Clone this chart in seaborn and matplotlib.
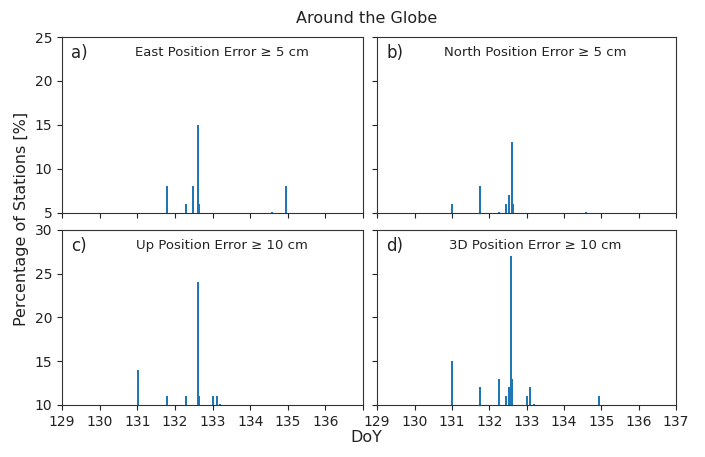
import numpy as np
import pandas as pd
import matplotlib
matplotlib.use("Agg")
import matplotlib.pyplot as plt
import seaborn as sns

# values (DoY, % of stations)
east_doy = [131.79, 132.30, 132.48, 132.62, 132.65, 134.58, 134.96]
east_pct = [8, 6, 8, 15, 6, 5.1, 8]

north_doy = [131.00, 131.76, 132.27, 132.46, 132.54, 132.60, 132.64, 134.59]
north_pct = [6, 8, 5.1, 6, 7, 13, 6, 5.1]

up_doy = [131.02, 131.79, 132.30, 132.62, 132.65, 133.00, 133.11, 133.20]
up_pct = [14, 11, 11, 24, 11, 11, 11, 10.1]

d3_doy = [131.00, 131.75, 132.26, 132.44, 132.53, 132.58, 132.62, 133.00, 133.10, 133.19, 134.94]
d3_pct = [15, 12, 13, 11, 12, 27, 13, 11, 12, 10.1, 11]

titles = ["East Position Error \u2265 5 cm", "North Position Error \u2265 5 cm",
          "Up Position Error \u2265 10 cm", "3D Position Error \u2265 10 cm"]
letters = ["a)", "b)", "c)", "d)"]
xticks = list(range(129, 138))

panels = [(east_doy, east_pct), (north_doy, north_pct), (up_doy, up_pct), (d3_doy, d3_pct)]

plt.rcParams["font.family"] = "DejaVu Sans"
plt.rcParams["text.color"] = "#222222"

fig = plt.figure(figsize=(7.05, 4.57), dpi=100)
boxes = [
    [0.088, 0.535, 0.427, 0.384],
    [0.535, 0.535, 0.424, 0.384],
    [0.088, 0.114, 0.427, 0.383],
    [0.535, 0.114, 0.424, 0.383],
]

bar_w = 0.052  # in days
for i, ((doy, pct), box) in enumerate(zip(panels, boxes)):
    ax = fig.add_axes(box)
    df = pd.DataFrame({"DoY": doy, "pct": pct})
    min_gap = np.min(np.diff(np.sort(df["DoY"].unique())))
    sns.barplot(data=df, x="DoY", y="pct", native_scale=True, errorbar=None,
                color="#1f77b4", saturation=1, width=bar_w / min_gap,
                linewidth=0, ax=ax)
    ax.set_xlim(129, 137)
    if i < 2:
        ax.set_ylim(5, 25)
        ax.set_yticks([5, 10, 15, 20, 25])
    else:
        ax.set_ylim(10, 30)
        ax.set_yticks([10, 15, 20, 25, 30])
    ax.set_xticks(xticks)
    if i < 2:
        ax.set_xticklabels([])
    elif i == 2:
        ax.set_xticklabels([str(t) for t in xticks[:-1]] + [""])
    else:
        ax.set_xticklabels([str(t) for t in xticks])
    if i % 2 == 1:
        ax.set_yticklabels([])
    ax.set_xlabel("")
    ax.set_ylabel("")
    ax.tick_params(labelsize=10, colors="#222222")
    for s in ax.spines.values():
        s.set_color("#333333")
    ax.text(0.03, 0.88, letters[i], transform=ax.transAxes, fontsize=12)
    ax.text(0.53, 0.91, titles[i], transform=ax.transAxes, fontsize=9.5,
            ha="center", va="center")

fig.text(0.52, 0.96, "Around the Globe", ha="center", va="center", fontsize=11.5)
fig.text(0.03, 0.52, "Percentage of Stations [%]", rotation=90, ha="center",
         va="center", fontsize=11.5)
fig.text(0.52, 0.042, "DoY", ha="center", va="center", fontsize=11.5)

fig.savefig("out.png", dpi=100)
